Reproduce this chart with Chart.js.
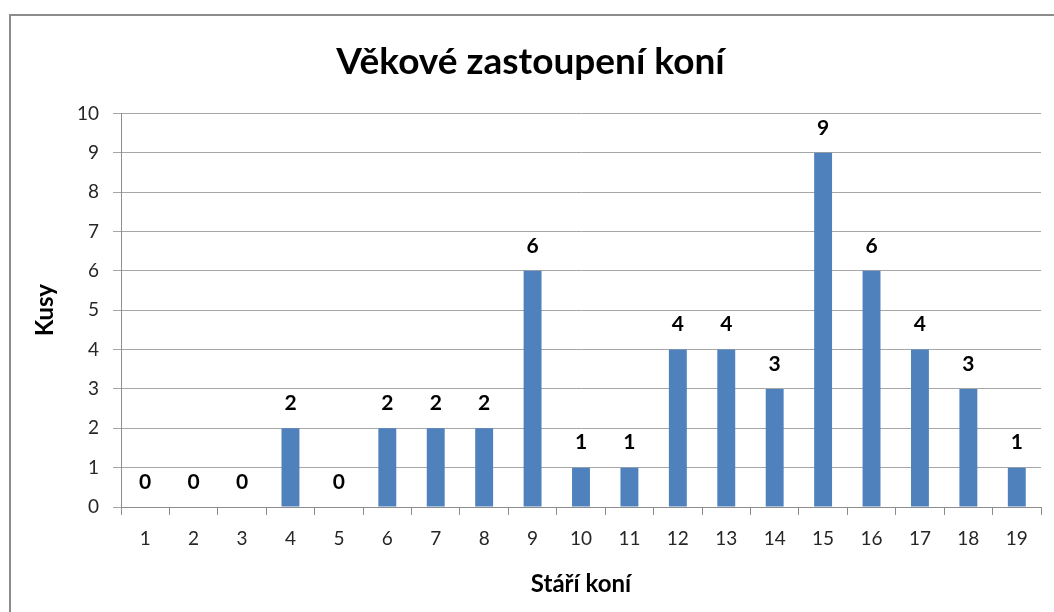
<!DOCTYPE html>
<html>
<head>
<meta charset="utf-8">
<script src="https://cdn.jsdelivr.net/npm/chart.js@4"></script>
<style>
  body { margin: 0; background: #fff; overflow: hidden; }
  #ramecek { position: absolute; left: 9px; top: 14px; width: 1200px; height: 800px; border: 2px solid #8c8c8c; }
  #graf { position: absolute; left: 0; top: 0; }
</style>
</head>
<body>
<div id="ramecek"></div>
<canvas id="graf" width="1054" height="612"></canvas>
<script>
const vek = ["1","2","3","4","5","6","7","8","9","10","11","12","13","14","15","16","17","18","19"];
const kusy = [0,0,0,2,0,2,2,2,6,1,1,4,4,3,9,6,4,3,1];
const osaY = [0,1,2,3,4,5,6,7,8,9,10];

const pismo = "Lato, 'Open Sans', sans-serif";

// popisky hodnot nad sloupci
const popisky = {
  id: "popisky",
  afterDatasetsDraw(chart) {
    const ctx = chart.ctx;
    const meta = chart.getDatasetMeta(0);
    ctx.save();
    ctx.font = "bold 21px " + pismo;
    ctx.fillStyle = "#000";
    ctx.textAlign = "center";
    ctx.textBaseline = "middle";
    meta.data.forEach((bar, i) => {
      ctx.fillText(String(kusy[i]), bar.x, bar.y - 25);
    });
    ctx.restore();
  }
};

new Chart(document.getElementById("graf"), {
  type: "bar",
  data: {
    labels: vek,
    datasets: [{
      label: "Kusy",
      data: kusy,
      backgroundColor: "#4f81bd",
      borderWidth: 0,
      barPercentage: 0.37,
      categoryPercentage: 1
    }]
  },
  options: {
    responsive: false,
    animation: false,
    layout: { padding: { left: 20, right: 13, top: 0, bottom: 0 } },
    plugins: {
      legend: { display: false },
      tooltip: { enabled: false },
      title: {
        display: true,
        text: "Věkové zastoupení koní",
        color: "#000",
        font: { family: pismo, size: 37, weight: "bold" },
        padding: { top: 40, bottom: 29 }
      }
    },
    scales: {
      x: {
        grid: { drawOnChartArea: false, drawTicks: true, tickLength: 8, color: "#8c8c8c", offset: true },
        border: { color: "#8c8c8c" },
        ticks: { color: "#262626", font: { family: pismo, size: 19 }, padding: 12, maxRotation: 0 },
        title: {
          display: true,
          text: "Stáří koní",
          color: "#000",
          font: { family: pismo, size: 24, weight: "bold" },
          padding: { top: 0, bottom: 13 }
        },
        afterFit(scale) { scale.height = 105; }
      },
      y: {
        min: 0,
        max: 10,
        afterBuildTicks(scale) { scale.ticks = osaY.map(v => ({ value: v })); },
        grid: { color: "#a6a6a6", tickLength: 8 },
        border: { color: "#8c8c8c" },
        ticks: { color: "#262626", font: { family: pismo, size: 19 }, padding: 14 },
        title: {
          display: true,
          text: "Kusy",
          color: "#000",
          font: { family: pismo, size: 24, weight: "bold" },
          padding: { top: 11, bottom: 0 }
        },
        afterFit(scale) { scale.width = 101; }
      }
    }
  },
  plugins: [popisky]
});
</script>
</body>
</html>
